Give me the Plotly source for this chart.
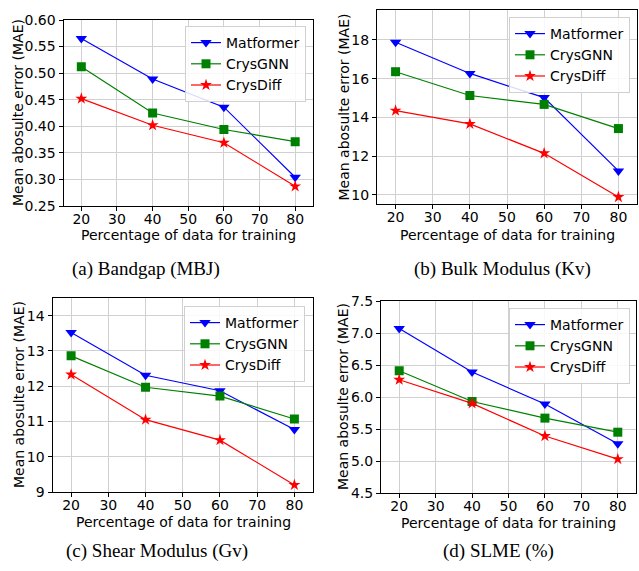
import plotly.graph_objects as go

W, H = 639, 571

x_pct = [20, 40, 60, 80]
series_names = ["Matformer", "CrysGNN", "CrysDiff"]

# (a) Bandgap (MBJ)
a_matformer = [0.565, 0.489, 0.436, 0.304]
a_crysgnn = [0.512, 0.425, 0.394, 0.371]
a_crysdiff = [0.452, 0.402, 0.369, 0.287]

# (b) Bulk Modulus (Kv)
b_matformer = [17.88, 16.27, 15.02, 11.23]
b_crysgnn = [16.36, 15.13, 14.67, 13.42]
b_crysdiff = [14.35, 13.66, 12.14, 9.88]

# (c) Shear Modulus (Gv)
c_matformer = [13.52, 12.31, 11.87, 10.77]
c_crysgnn = [12.86, 11.97, 11.72, 11.07]
c_crysdiff = [12.33, 11.05, 10.47, 9.20]

# (d) SLME (%)
d_matformer = [7.07, 6.39, 5.89, 5.27]
d_crysgnn = [6.41, 5.93, 5.67, 5.45]
d_crysdiff = [6.27, 5.90, 5.39, 5.03]

captions = ["(a) Bandgap (MBJ)", "(b) Bulk Modulus (Kv)", "(c) Shear Modulus (Gv)", "(d) SLME (%)"]
x_title = "Percentage of data for training"
y_title = "Mean abosulte error (MAE)"

panels = [
    dict(data=[a_matformer, a_crysgnn, a_crysdiff], box=(63.5, 313, 20, 206),
         yrange=[0.25, 0.60], dtick=0.05, fmt=".2f", leg=(306, 26), cap=(146, 269),
         xt=(188, 235), yt=(18, 113)),
    dict(data=[b_matformer, b_crysgnn, b_crysdiff], box=(377, 637, 10, 204),
         yrange=[9.52, 19.55], dtick=2, fmt="d", leg=(630, 17), cap=(502, 269),
         xt=(507, 235), yt=(343.5, 107)),
    dict(data=[c_matformer, c_crysgnn, c_crysdiff], box=(52.5, 313, 298, 492),
         yrange=[9, 14.5], dtick=1, fmt="d", leg=(305, 306), cap=(157, 551),
         xt=(183, 521.5), yt=(19, 395)),
    dict(data=[d_matformer, d_crysgnn, d_crysdiff], box=(381, 636, 301, 493),
         yrange=[4.5, 7.5], dtick=0.5, fmt=".1f", leg=(630, 308), cap=(499, 551),
         xt=(508.5, 522.5), yt=(343, 397)),
]

colors = ["#0000ff", "#008000", "#ff0000"]
symbols = ["triangle-down", "square", "star"]
msizes = [10, 9, 9]

tickfont = dict(family="DejaVu Sans", size=14, color="black")
labfont = dict(family="DejaVu Sans", size=14, color="black")
fig = go.Figure()
layout = dict(width=W, height=H, margin=dict(l=0, r=0, t=0, b=0, pad=0, autoexpand=False),
              paper_bgcolor="white", plot_bgcolor="white", annotations=[])

def ann(text, x, y, font, angle=0):
    return dict(text=text, x=x / W, y=1 - y / H, xref="paper", yref="paper",
                showarrow=False, xanchor="center", yanchor="middle", textangle=angle, font=font)

for i, p in enumerate(panels):
    n = "" if i == 0 else str(i + 1)
    leg_name = "legend" if i == 0 else f"legend{i+1}"
    for j, vals in enumerate(p["data"]):
        fig.add_trace(go.Scatter(
            x=x_pct, y=vals, name=series_names[j], mode="lines+markers",
            line=dict(color=colors[j], width=1.2),
            marker=dict(symbol=symbols[j], size=msizes[j], color=colors[j]),
            xaxis="x" + n, yaxis="y" + n, legend=leg_name))
    x0, x1, y0, y1 = p["box"]
    axcommon = dict(showline=True, linecolor="black", linewidth=1, mirror=True,
                    showgrid=True, gridcolor="#d0d0d0", gridwidth=1,
                    ticks="outside", ticklen=4, tickcolor="black", tickwidth=1,
                    tickfont=tickfont, zeroline=False, automargin=False)
    layout["xaxis" + n] = dict(domain=[x0 / W, x1 / W], range=[15, 85], tick0=20, dtick=10,
                               anchor="y" + n, ticklabelstandoff=-4, **axcommon)
    layout["yaxis" + n] = dict(domain=[1 - y1 / H, 1 - y0 / H], range=p["yrange"], dtick=p["dtick"],
                               tick0=0, tickformat=p["fmt"], anchor="x" + n, **axcommon)
    lx, ly = p["leg"]
    layout[leg_name] = dict(x=lx / W, y=1 - ly / H, xanchor="right", yanchor="top",
                            xref="paper", yref="paper",
                            bgcolor="rgba(255,255,255,0.85)", bordercolor="#d0d0d0", borderwidth=1,
                            font=dict(family="DejaVu Sans", size=14, color="black"),
                            itemwidth=30, tracegroupgap=0)
    layout["annotations"].append(ann(x_title, *p["xt"], labfont))
    layout["annotations"].append(ann(y_title, *p["yt"], labfont, angle=-90))
    layout["annotations"].append(ann(captions[i], *p["cap"],
                                     dict(family="Liberation Serif", size=19, color="black")))

fig.update_layout(**layout)
fig.write_html("out.html", config={"displayModeBar": False},
               post_script="document.body.style.margin='0';document.body.style.overflow='hidden';")
